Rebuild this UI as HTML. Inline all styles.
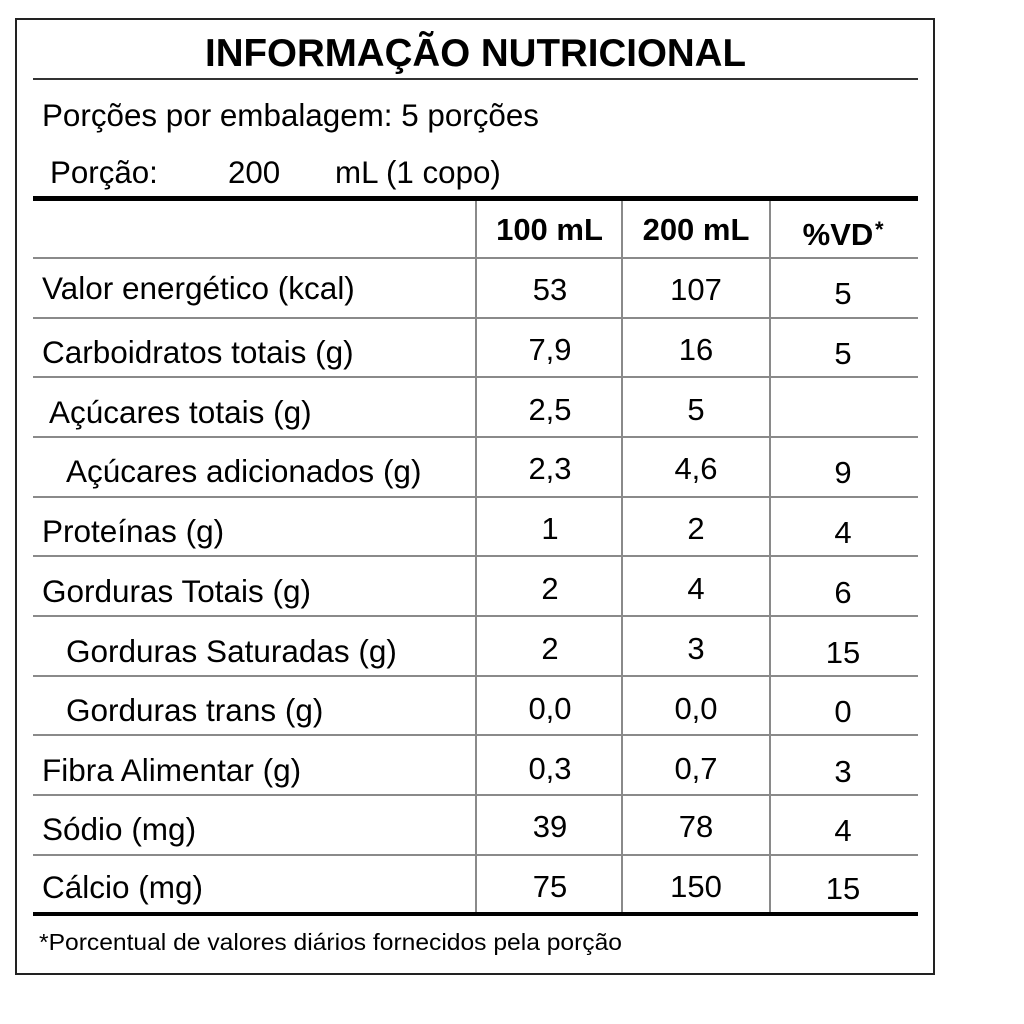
<!DOCTYPE html>
<html>
<head>
<meta charset="utf-8">
<style>
  html, body { margin:0; padding:0; background:#fff; }
  svg { display:block; }
  text { font-family: "Liberation Sans", Arial, sans-serif; fill:#000; }
</style>
</head>
<body>
<svg width="1024" height="1024" viewBox="0 0 1024 1024" xmlns="http://www.w3.org/2000/svg">
  <rect x="0" y="0" width="1024" height="1024" fill="#fff"/>
  <!-- outer border -->
  <rect x="16" y="19" width="918" height="955" fill="none" stroke="#222" stroke-width="2"/>

  <!-- title -->
  <text x="205" y="66" font-size="38.5" font-weight="bold" textLength="541" lengthAdjust="spacingAndGlyphs">INFORMAÇÃO NUTRICIONAL</text>
  <rect x="33" y="78" width="885" height="2" fill="#333"/>

  <text x="42" y="126" font-size="31.3" textLength="497" lengthAdjust="spacingAndGlyphs">Porções por embalagem: 5 porções</text>
  <text x="50" y="183" font-size="31.3">Porção:</text>
  <text x="228" y="183" font-size="31.3">200</text>
  <text x="335" y="183" font-size="31.3">mL (1 copo)</text>

  <!-- thick line -->
  <rect x="33" y="196" width="885" height="5" fill="#000"/>

  <!-- grid horizontal lines -->
  <g fill="#8a8a8a">
    <rect x="33" y="257" width="885" height="2"/>
    <rect x="33" y="317" width="885" height="2"/>
    <rect x="33" y="376" width="885" height="2"/>
    <rect x="33" y="436" width="885" height="2"/>
    <rect x="33" y="496" width="885" height="2"/>
    <rect x="33" y="555" width="885" height="2"/>
    <rect x="33" y="615" width="885" height="2"/>
    <rect x="33" y="675" width="885" height="2"/>
    <rect x="33" y="734" width="885" height="2"/>
    <rect x="33" y="794" width="885" height="2"/>
    <rect x="33" y="854" width="885" height="2"/>
    <!-- vertical -->
    <rect x="475" y="201" width="2" height="712"/>
    <rect x="621" y="201" width="2" height="712"/>
    <rect x="769" y="201" width="2" height="712"/>
  </g>

  <!-- bottom thick line -->
  <rect x="33" y="912" width="885" height="4" fill="#000"/>

  <!-- header -->
  <g font-size="31" font-weight="bold" text-anchor="middle">
    <text x="549.5" y="240">100 mL</text>
    <text x="696" y="240">200 mL</text>
    <text x="838" y="245">%VD</text>
  </g>
  <text x="875" y="237" font-size="22" font-weight="bold">*</text>

  <!-- labels -->
  <g font-size="31.5">
    <text x="42" y="299">Valor energético (kcal)</text>
    <text x="42" y="363">Carboidratos totais (g)</text>
    <text x="49" y="423">Açúcares totais (g)</text>
    <text x="66" y="482">Açúcares adicionados (g)</text>
    <text x="42" y="542">Proteínas (g)</text>
    <text x="42" y="602">Gorduras Totais (g)</text>
    <text x="66" y="662">Gorduras Saturadas (g)</text>
    <text x="66" y="721">Gorduras trans (g)</text>
    <text x="42" y="781">Fibra Alimentar (g)</text>
    <text x="42" y="840">Sódio (mg)</text>
    <text x="42" y="898">Cálcio (mg)</text>
  </g>

  <!-- values 100 mL -->
  <g font-size="31" text-anchor="middle">
    <text x="550" y="300">53</text>
    <text x="550" y="360">7,9</text>
    <text x="550" y="420">2,5</text>
    <text x="550" y="479">2,3</text>
    <text x="550" y="539">1</text>
    <text x="550" y="599">2</text>
    <text x="550" y="659">2</text>
    <text x="550" y="719">0,0</text>
    <text x="550" y="779">0,3</text>
    <text x="550" y="837">39</text>
    <text x="550" y="897">75</text>
  </g>
  <!-- values 200 mL -->
  <g font-size="31" text-anchor="middle">
    <text x="696" y="300">107</text>
    <text x="696" y="360">16</text>
    <text x="696" y="420">5</text>
    <text x="696" y="479">4,6</text>
    <text x="696" y="539">2</text>
    <text x="696" y="599">4</text>
    <text x="696" y="659">3</text>
    <text x="696" y="719">0,0</text>
    <text x="696" y="779">0,7</text>
    <text x="696" y="837">78</text>
    <text x="696" y="897">150</text>
  </g>
  <!-- %VD -->
  <g font-size="31" text-anchor="middle">
    <text x="843" y="304">5</text>
    <text x="843" y="364">5</text>
    <text x="843" y="483">9</text>
    <text x="843" y="543">4</text>
    <text x="843" y="603">6</text>
    <text x="843" y="663">15</text>
    <text x="843" y="722">0</text>
    <text x="843" y="782">3</text>
    <text x="843" y="841">4</text>
    <text x="843" y="899">15</text>
  </g>

  <!-- footnote -->
  <text x="39" y="950" font-size="23.5" textLength="583" lengthAdjust="spacingAndGlyphs">*Porcentual de valores diários fornecidos pela porção</text>
</svg>
</body>
</html>
